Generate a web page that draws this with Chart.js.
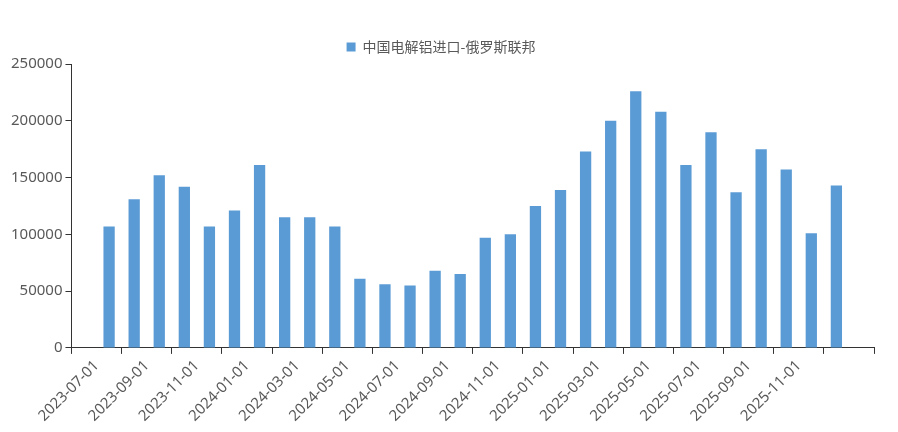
<!DOCTYPE html>
<html><head><meta charset="utf-8">
<script src="https://cdn.jsdelivr.net/npm/chart.js@4"></script>
<style>body{margin:0;background:#fff}#wrap{width:898px;height:432px}</style>
</head><body><div id="wrap"><canvas id="c"></canvas></div>
<script>
const months = ['2023-07-01','2023-08-01','2023-09-01','2023-10-01','2023-11-01','2023-12-01',
  '2024-01-01','2024-02-01','2024-03-01','2024-04-01','2024-05-01','2024-06-01',
  '2024-07-01','2024-08-01','2024-09-01','2024-10-01','2024-11-01','2024-12-01',
  '2025-01-01','2025-02-01','2025-03-01','2025-04-01','2025-05-01','2025-06-01',
  '2025-07-01','2025-08-01','2025-09-01','2025-10-01','2025-11-01','2025-12-01'];
const imports = [107000,131000,152000,142000,107000,121000,161000,115000,115000,107000,61000,56000,
  55000,68000,65000,97000,100000,125000,139000,173000,200000,226000,208000,161000,
  190000,137000,175000,157000,101000,143000];

const points = imports.map((v, i) => ({ x: i + 0.5, y: v }));

new Chart(document.getElementById('c'), {
  type: 'bar',
  data: { datasets: [{
    label: '中国电解铝进口-俄罗斯联邦',
    data: points,
    backgroundColor: '#5b9bd5',
    barPercentage: 0.45,
    categoryPercentage: 1
  }]},
  options: {
    responsive: true, maintainAspectRatio: false, animation: false,
    layout: { padding: { left: 8, right: 24, top: 18, bottom: 4 } },
    plugins: {
      legend: { position: 'top', labels: { boxWidth: 9, boxHeight: 9, color: '#595959', padding: 22,
        font: { family: 'Noto Sans CJK SC', size: 14 } } },
      tooltip: { enabled: false }
    },
    scales: {
      x: {
        type: 'linear', min: 0, max: 30,
        grid: { display: true, drawOnChartArea: false, tickLength: 6, tickColor: '#333' },
        border: { color: '#333' },
        ticks: {
          stepSize: 2, autoSkip: false, maxRotation: 45, minRotation: 45,
          color: '#595959', font: { family: 'Noto Sans', size: 15 },
          callback: v => months[v] || ''
        }
      },
      y: {
        min: 0, max: 250000,
        grid: { display: true, drawOnChartArea: false, tickLength: 6, tickColor: '#333' },
        border: { color: '#333' },
        ticks: { stepSize: 50000, color: '#595959', font: { family: 'Noto Sans', size: 15 },
          callback: v => String(v) }
      }
    }
  }
});
</script></body></html>
